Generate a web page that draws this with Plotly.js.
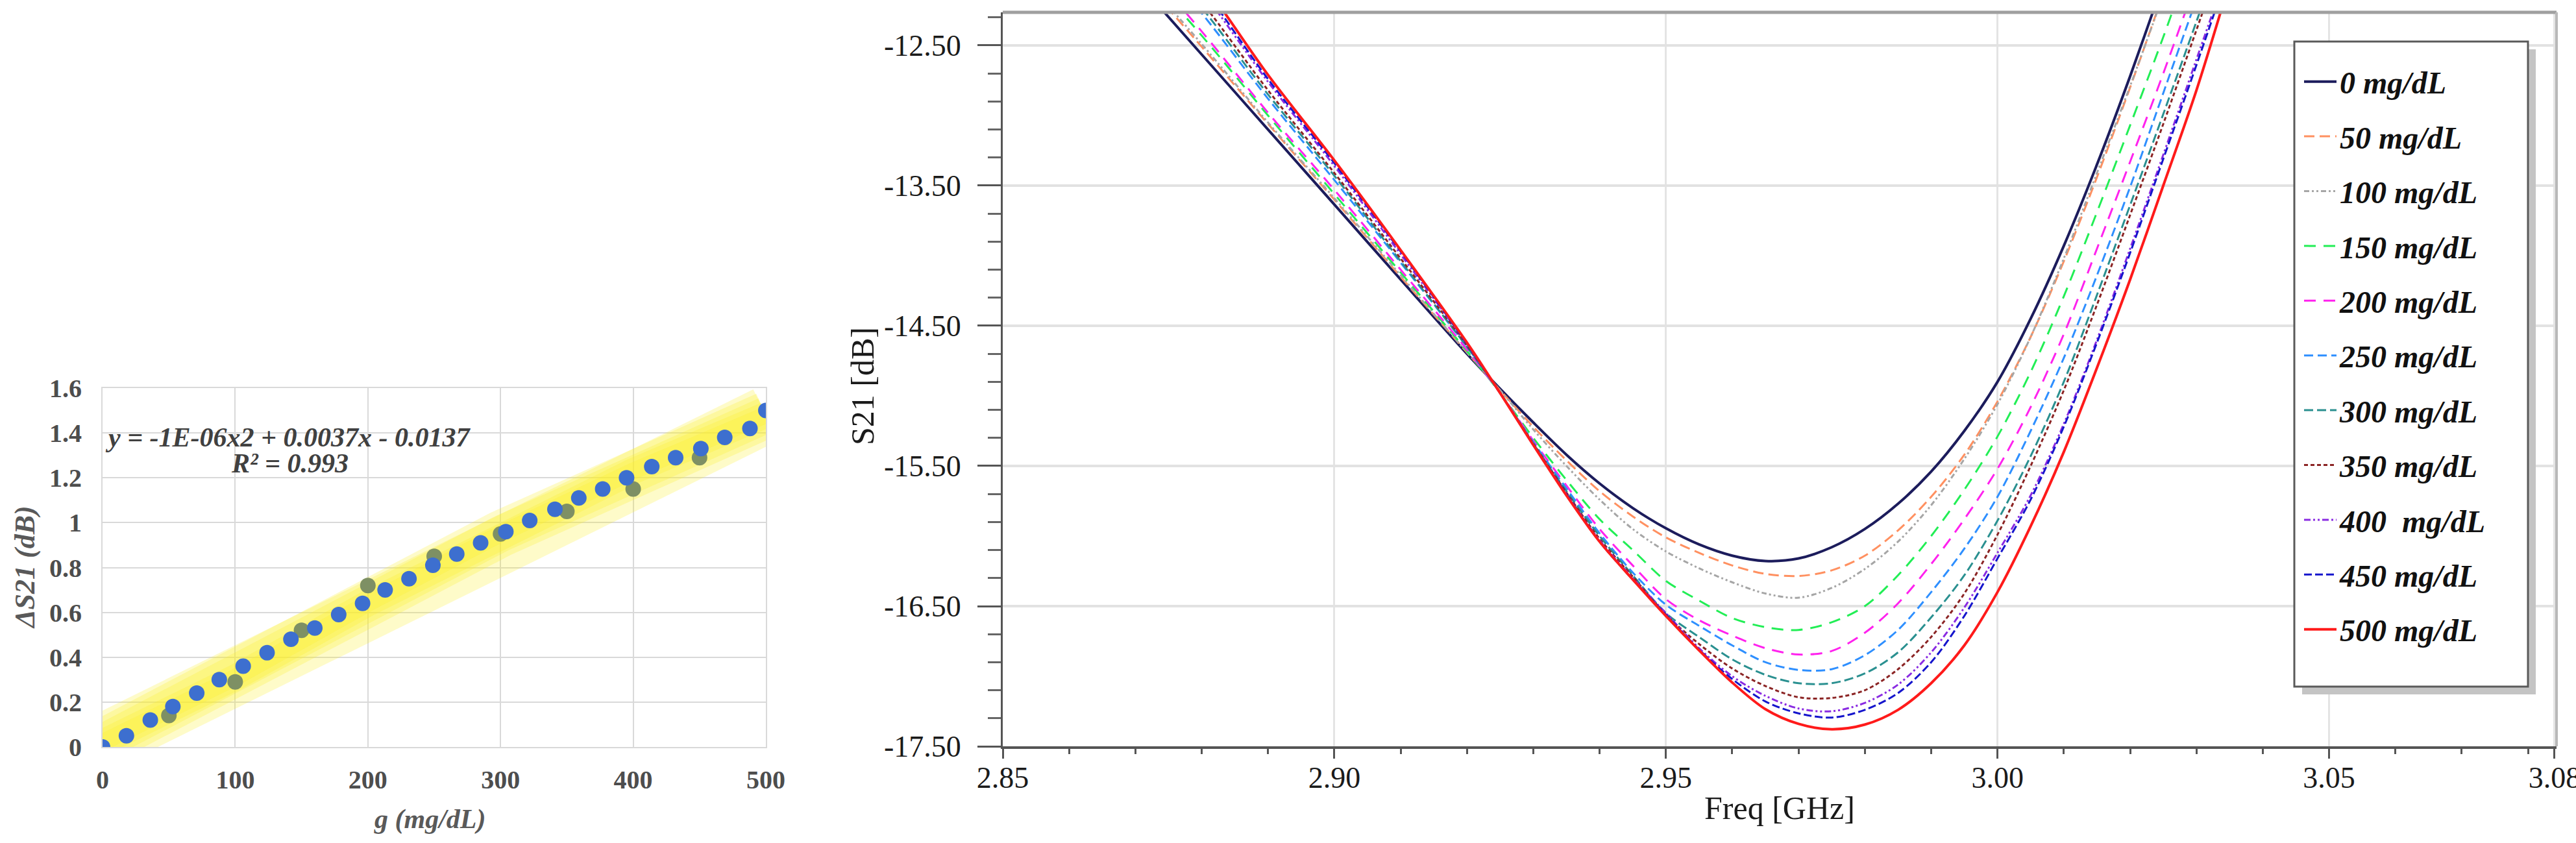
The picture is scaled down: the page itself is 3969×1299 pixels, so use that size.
<!DOCTYPE html>
<html>
<head>
<meta charset="utf-8">
<script src="https://cdn.plot.ly/plotly-3.0.1.min.js"></script>
<style>
  html, body { margin: 0; padding: 0; background: #fff; }
  #chart { width: 3969px; height: 1299px; }
</style>
</head>
<body>
<div id="chart"></div>
<script>
// left panel: delta S21 vs glucose
const glucoseBlue = [0, 18, 36, 53, 71, 88, 106, 124, 142, 160, 178, 196, 213, 231, 249, 267, 285, 304, 322, 341, 359, 377, 395, 414, 432, 451, 469, 488, 500];
const deltaBlue = [0, 0.05, 0.12, 0.18, 0.24, 0.30, 0.36, 0.42, 0.48, 0.53, 0.59, 0.64, 0.70, 0.75, 0.81, 0.86, 0.91, 0.96, 1.01, 1.06, 1.11, 1.15, 1.20, 1.25, 1.29, 1.33, 1.38, 1.42, 1.50];
const glucoseGray = [50, 100, 150, 200, 250, 300, 350, 400, 450];
const deltaGray = [0.14, 0.29, 0.52, 0.72, 0.85, 0.95, 1.05, 1.15, 1.29];
// centre of the yellow trend band
const trendX = [0, 100, 200, 300, 400, 500];
const trendY = [0.02, 0.31, 0.64, 0.95, 1.23, 1.48];

// right panel: S21 sweeps
const freqGHz = [2.870, 2.880, 2.890, 2.900, 2.910, 2.920, 2.925, 2.930, 2.935, 2.940, 2.945, 2.950, 2.955, 2.960, 2.965, 2.970, 2.975, 2.980, 2.985, 2.990, 2.995, 3.000, 3.005, 3.010, 3.015, 3.020, 3.025, 3.030, 3.035, 3.040];
const s21_0   = [-12.03, -12.565, -13.10, -13.635, -14.17, -14.70, -14.95, -15.19, -15.42, -15.625, -15.80, -15.945, -16.06, -16.14, -16.178, -16.16, -16.08, -15.95, -15.77, -15.54, -15.25, -14.90, -14.45, -13.93, -13.35, -12.72, -12.05, -11.38, -10.70, -10.00];
const s21_50  = [-11.97, -12.51, -13.06, -13.60, -14.15, -14.69, -14.96, -15.22, -15.46, -15.68, -15.86, -16.01, -16.12, -16.21, -16.27, -16.285, -16.245, -16.14, -15.96, -15.72, -15.42, -15.04, -14.58, -14.04, -13.44, -12.80, -12.13, -11.46, -10.80, -10.10];
const s21_100 = [-11.95, -12.49, -13.05, -13.59, -14.14, -14.69, -14.96, -15.24, -15.50, -15.74, -15.95, -16.11, -16.23, -16.33, -16.41, -16.44, -16.37, -16.235, -16.04, -15.78, -15.45, -15.06, -14.58, -14.02, -13.41, -12.79, -12.14, -11.48, -10.82, -10.12];
const s21_150 = [-11.89, -12.43, -13.00, -13.56, -14.12, -14.68, -14.98, -15.30, -15.60, -15.88, -16.10, -16.32, -16.46, -16.585, -16.65, -16.67, -16.615, -16.50, -16.28, -16.00, -15.67, -15.29, -14.83, -14.29, -13.69, -13.07, -12.44, -11.78, -11.12, -10.45];
const s21_200 = [-11.85, -12.40, -12.98, -13.53, -14.10, -14.67, -14.98, -15.32, -15.64, -15.95, -16.21, -16.45, -16.60, -16.71, -16.80, -16.845, -16.82, -16.69, -16.48, -16.20, -15.88, -15.52, -15.08, -14.56, -13.95, -13.33, -12.70, -12.04, -11.38, -10.70];
const s21_250 = [-11.71, -12.27, -12.88, -13.46, -14.05, -14.65, -14.98, -15.33, -15.66, -15.98, -16.26, -16.49, -16.64, -16.78, -16.90, -16.955, -16.95, -16.85, -16.67, -16.40, -16.09, -15.72, -15.25, -14.73, -14.14, -13.51, -12.84, -12.17, -11.50, -10.82];
const s21_300 = [-11.67, -12.23, -12.85, -13.43, -14.04, -14.65, -14.98, -15.34, -15.68, -16.00, -16.28, -16.55, -16.72, -16.88, -16.99, -17.05, -17.05, -16.98, -16.83, -16.58, -16.28, -15.89, -15.43, -14.90, -14.28, -13.64, -12.99, -12.33, -11.66, -10.98];
const s21_350 = [-11.63, -12.19, -12.82, -13.41, -14.02, -14.64, -14.98, -15.34, -15.69, -16.02, -16.29, -16.56, -16.77, -16.945, -17.07, -17.15, -17.155, -17.10, -16.95, -16.72, -16.41, -15.99, -15.50, -14.96, -14.35, -13.71, -13.06, -12.39, -11.71, -11.02];
const s21_400 = [-11.55, -12.11, -12.76, -13.36, -13.99, -14.63, -14.98, -15.35, -15.70, -16.03, -16.30, -16.55, -16.80, -17.00, -17.14, -17.23, -17.25, -17.19, -17.06, -16.83, -16.51, -16.12, -15.71, -15.20, -14.60, -13.95, -13.28, -12.60, -11.92, -11.22];
const s21_450 = [-11.51, -12.08, -12.74, -13.34, -13.97, -14.63, -14.98, -15.35, -15.70, -16.04, -16.31, -16.56, -16.81, -17.02, -17.18, -17.265, -17.295, -17.24, -17.12, -16.90, -16.57, -16.16, -15.74, -15.22, -14.62, -13.98, -13.31, -12.64, -11.95, -11.25];
const s21_500 = [-11.47, -12.04, -12.71, -13.32, -13.96, -14.62, -14.98, -15.35, -15.71, -16.04, -16.31, -16.57, -16.815, -17.045, -17.235, -17.34, -17.378, -17.345, -17.24, -17.05, -16.78, -16.40, -15.93, -15.40, -14.80, -14.17, -13.50, -12.82, -12.05, -11.25];

const seriesNames = ["0 mg/dL", "50 mg/dL", "100 mg/dL", "150 mg/dL", "200 mg/dL", "250 mg/dL", "300 mg/dL", "350 mg/dL", "400  mg/dL", "450 mg/dL", "500 mg/dL"];
const seriesData = [s21_0, s21_50, s21_100, s21_150, s21_200, s21_250, s21_300, s21_350, s21_400, s21_450, s21_500];

const s21TickVals = [-17.5, -16.5, -15.5, -14.5, -13.5, -12.5];
const s21TickText = ["-17.50", "-16.50", "-15.50", "-14.50", "-13.50", "-12.50"];
const freqTickVals = [2.85, 2.90, 2.95, 3.00, 3.05, 3.084];
const freqTickText = ["2.85", "2.90", "2.95", "3.00", "3.05", "3.08"];

const lineStyles = [
  { color: "#1c1c5c", width: 4, dash: "solid" },
  { color: "#ff9060", width: 3, dash: "16px,8px" },
  { color: "#a6a6a6", width: 3, dash: "8px,4px,3px,4px,3px,4px" },
  { color: "#22ee55", width: 3, dash: "18px,12px" },
  { color: "#ff22ee", width: 3, dash: "18px,12px" },
  { color: "#2e8fff", width: 3, dash: "14px,7px" },
  { color: "#2a9090", width: 3, dash: "14px,6px" },
  { color: "#8b2424", width: 3, dash: "6px,4px" },
  { color: "#8a2be2", width: 3, dash: "10px,4px,3px,4px,3px,4px" },
  { color: "#1515cc", width: 3, dash: "12px,5px" },
  { color: "#ff1a1a", width: 4, dash: "solid" },
];

const W = 3969, H = 1299;
const px = (x) => x / W;
const py = (y) => 1 - y / H;

const serif = '"Liberation Serif", serif';

function buildLeft() {
  const traces = [];
  // soft glow: stacked translucent bands
  [88, 72, 56, 40, 26].forEach((w) => {
    traces.push({
      x: trendX, y: trendY, xaxis: "x", yaxis: "y",
      mode: "lines", line: { color: "rgba(250,238,40,0.25)", width: w },
      hoverinfo: "skip", showlegend: false,
    });
  });
  traces.push({
    x: glucoseGray, y: deltaGray, xaxis: "x", yaxis: "y",
    mode: "markers", marker: { color: "#7e9064", size: 24 },
    showlegend: false,
  });
  traces.push({
    x: glucoseBlue, y: deltaBlue, xaxis: "x", yaxis: "y",
    mode: "markers", marker: { color: "#3d6fcf", size: 24 },
    showlegend: false,
  });
  return traces;
}

function buildRight() {
  return seriesData.map((vals, i) => ({
    x: freqGHz, y: vals, xaxis: "x2", yaxis: "y2",
    name: seriesNames[i], legendgroup: "g" + i,
    mode: "lines",
    line: { color: lineStyles[i].color, width: lineStyles[i].width, dash: lineStyles[i].dash, shape: "spline", smoothing: 0.9 },
  }));
}

function note(text, x, y, size, color, extra) {
  return Object.assign({
    text, xref: "paper", yref: "paper", x: px(x), y: py(y),
    xanchor: "center", yanchor: "middle", showarrow: false,
    font: { family: serif, size, color },
  }, extra || {});
}

const leftTickFont = { family: serif, size: 40, color: "#4d4d4d", weight: "bold" };
const rightTickFont = { family: serif, size: 46, color: "#1a1a1a" };
const boldItalic = (size, color) => ({ family: serif, size, color, weight: "bold", style: "italic" });

const layout = {
  width: W, height: H,
  margin: { l: 0, r: 0, t: 0, b: 0 },
  paper_bgcolor: "#ffffff", plot_bgcolor: "#ffffff",
  font: { family: serif, color: "#1a1a1a" },
  showlegend: true,
  xaxis: {
    domain: [px(158), px(1180)], anchor: "y", range: [0, 500], dtick: 100,
    showgrid: true, gridcolor: "#d9d9d9", gridwidth: 2, zeroline: false,
    showline: true, mirror: true, linecolor: "#d9d9d9", linewidth: 2,
    ticks: "", tickfont: leftTickFont, ticklabelstandoff: 14,
  },
  yaxis: {
    domain: [py(1151), py(598)], anchor: "x", range: [0, 1.6], dtick: 0.2,
    showgrid: true, gridcolor: "#d9d9d9", gridwidth: 2, zeroline: false,
    showline: true, mirror: true, linecolor: "#d9d9d9", linewidth: 2,
    ticks: "", tickfont: leftTickFont, ticklabelstandoff: 22,
  },
  xaxis2: {
    domain: [px(1545), px(3939)], anchor: "y2", range: [2.85, 3.0843],
    tickmode: "array", tickvals: freqTickVals, ticktext: freqTickText,
    ticks: "outside", ticklen: 15, tickwidth: 3, tickcolor: "#555",
    minor: { tickmode: "linear", tick0: 2.85, dtick: 0.01, ticks: "outside", ticklen: 8, tickwidth: 3, tickcolor: "#555", showgrid: false },
    showline: true, linecolor: "#555", linewidth: 4,
    showgrid: true, gridcolor: "#e4e4e4", gridwidth: 3, zeroline: false,
    tickfont: rightTickFont, ticklabelstandoff: -10, ticklabeloverflow: "allow",
  },
  yaxis2: {
    domain: [py(1150), py(19)], anchor: "x2", range: [-17.5, -12.264],
    tickmode: "array", tickvals: s21TickVals, ticktext: s21TickText,
    ticks: "outside", ticklen: 36, tickwidth: 3, tickcolor: "#555",
    minor: { tickmode: "linear", tick0: -17.5, dtick: 0.2, ticks: "outside", ticklen: 20, tickwidth: 3, tickcolor: "#666", showgrid: false },
    showline: true, linecolor: "#555", linewidth: 3,
    showgrid: true, gridcolor: "#e2e2e2", gridwidth: 4, zeroline: false,
    tickfont: rightTickFont, ticklabelstandoff: 16,
  },
  legend: {
    x: px(3545), y: py(88), xanchor: "left", yanchor: "top",
    bgcolor: "rgba(0,0,0,0)", borderwidth: 0,
    font: boldItalic(48, "#111"),
    tracegroupgap: 19, itemwidth: 50,
  },
  shapes: [
    // plot frame, top and right
    { type: "line", xref: "paper", yref: "paper", x0: px(1545), x1: px(3939), y0: py(19), y1: py(19), line: { color: "#a0a0a0", width: 5 }, layer: "above" },
    { type: "line", xref: "paper", yref: "paper", x0: px(3939), x1: px(3939), y0: py(1150), y1: py(19), line: { color: "#b8b8b8", width: 4 }, layer: "above" },
    // legend box with drop shadow
    { type: "rect", xref: "paper", yref: "paper", x0: px(3547), x1: px(3907), y0: py(1070), y1: py(76), fillcolor: "#c4c4c4", line: { width: 0 }, layer: "above" },
    { type: "rect", xref: "paper", yref: "paper", x0: px(3535), x1: px(3895), y0: py(1058), y1: py(64), fillcolor: "#ffffff", line: { color: "#5a5a5a", width: 3 }, layer: "above" },
  ],
  annotations: [
    note("ΔS21 (dB)", 38, 874, 44, "#595959", { textangle: -90, font: boldItalic(44, "#595959") }),
    note("g (mg/dL)", 662, 1262, 42, "#595959", { font: boldItalic(42, "#595959") }),
    note("y = -1E-06x2 + 0.0037x - 0.0137", 443, 674, 42, "#404040", { font: boldItalic(42, "#404040") }),
    note("R² = 0.993", 446, 714, 42, "#404040", { font: boldItalic(42, "#404040") }),
    note("Freq [GHz]", 2742, 1245, 50, "#1a1a1a"),
    note("S21 [dB]", 1329, 595, 50, "#1a1a1a", { textangle: -90 }),
  ],
};

Plotly.newPlot("chart", buildLeft().concat(buildRight()), layout, { staticPlot: true });
</script>
</body>
</html>
